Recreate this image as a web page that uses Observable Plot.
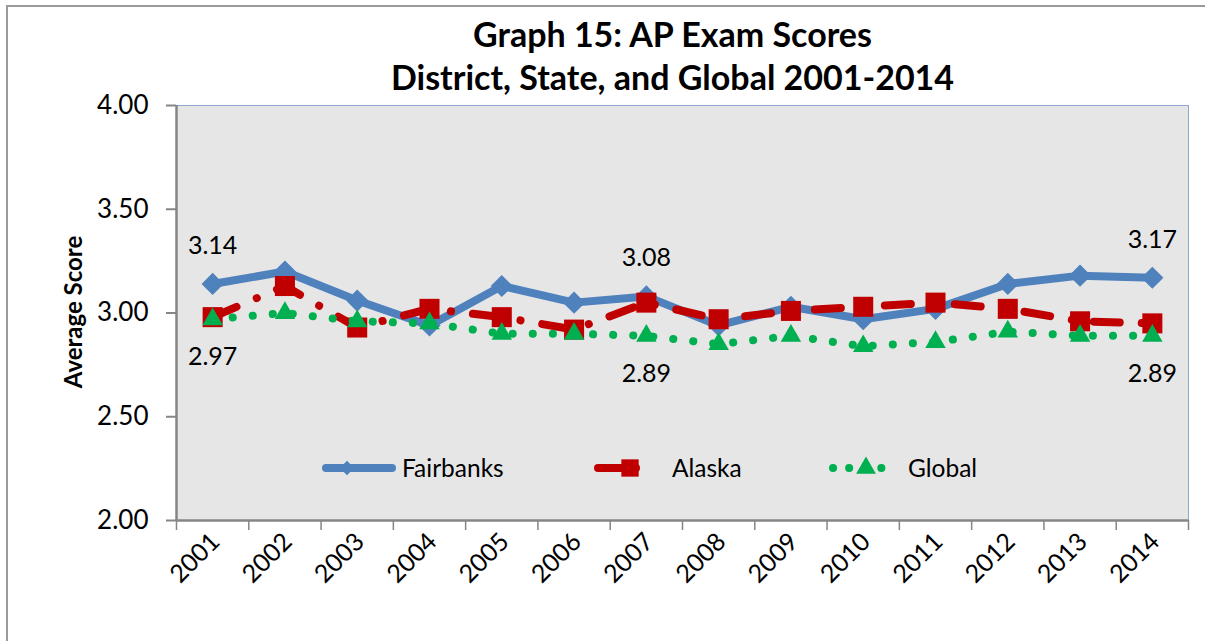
<!DOCTYPE html>
<html>
<head>
<meta charset="utf-8">
<script src="https://cdn.jsdelivr.net/npm/d3@7"></script>
<script src="https://cdn.jsdelivr.net/npm/@observablehq/plot@0.6"></script>
<style>
  html, body { margin: 0; padding: 0; background: #fff; overflow: hidden; }
  #wrap { position: relative; width: 1205px; height: 641px; font-family: Lato, "Open Sans", sans-serif; }
  #border { position: absolute; left: 6px; top: 5px; width: 1400px; height: 900px; border: 2px solid #9a9a9a; box-sizing: border-box; }
  #title { position: absolute; left: 0; width: 1345px; top: 12px; text-align: center; font-weight: bold; font-size: 34px; line-height: 43px; color: #000; }
  #ylab { position: absolute; left: 72px; top: 312px; transform: translate(-50%, -50%) rotate(-90deg); font-weight: bold; font-size: 24px; white-space: nowrap; }
  #chart { position: absolute; left: 0; top: 0; }
  #legend { position: absolute; left: 0; top: 0; pointer-events: none; }
</style>
</head>
<body>
<div id="wrap">
  <div id="border"></div>
  <div id="chart"></div>
  <div id="title">Graph 15: AP Exam Scores<br>District, State, and Global 2001-2014</div>
  <div id="ylab">Average Score</div>
  <div id="legend"></div>
</div>
<script>
const years = [2001, 2002, 2003, 2004, 2005, 2006, 2007, 2008, 2009, 2010, 2011, 2012, 2013, 2014];
const fairbanks = [3.14, 3.20, 3.06, 2.94, 3.13, 3.05, 3.08, 2.94, 3.03, 2.97, 3.02, 3.14, 3.18, 3.17];
const alaska    = [2.98, 3.13, 2.93, 3.02, 2.98, 2.92, 3.05, 2.97, 3.01, 3.03, 3.05, 3.02, 2.96, 2.95];
const global    = [2.97, 3.00, 2.96, 2.95, 2.90, 2.90, 2.89, 2.85, 2.89, 2.84, 2.86, 2.91, 2.89, 2.89];
const yTicks = [2.00, 2.50, 3.00, 3.50, 4.00];
const labelYears = [2001, 2007, 2014];
const seriesNames = ["Fairbanks", "Alaska", "Global"];

const BLUE = "#4F81BD", RED = "#C00000", GREEN = "#00B050";
const FONT = "Lato, 'Open Sans', sans-serif";

const rows = (vals) => years.map((yr, i) => ({year: yr, v: vals[i]}));
const fb = rows(fairbanks), ak = rows(alaska), gl = rows(global);
const bounds = years.map(y => y - 0.5).concat([years[years.length - 1] + 0.5]);

const plot = Plot.plot({
  width: 1205,
  height: 641,
  marginLeft: 176,
  marginRight: 17,
  marginTop: 105,
  marginBottom: 121,
  style: {fontFamily: FONT, background: "transparent", overflow: "visible"},
  x: {type: "linear", domain: [bounds[0], bounds[bounds.length - 1]], axis: null},
  y: {domain: [2, 4], axis: null},
  marks: [
    Plot.frame({fill: "#E6E6E6", stroke: "#8EA9D1", strokeWidth: 1}),
    Plot.axisY({ticks: yTicks, tickFormat: d => d.toFixed(2), tickSize: 10, tickPadding: 18,
      fontSize: 26, stroke: "#868686", strokeWidth: 2, color: "#000", label: null}),
    Plot.axisX({ticks: bounds, tickFormat: () => "", tickSize: 10, stroke: "#868686", strokeWidth: 1.5, label: null}),
    Plot.axisX({ticks: years, tickFormat: d => String(d), tickSize: 0, tickRotate: -45, tickPadding: 17,
      dx: 3, fontSize: 25, color: "#000", label: null}),
    Plot.ruleX([bounds[0]], {stroke: "#868686", strokeWidth: 2.5}),
    Plot.ruleY([2], {stroke: "#868686", strokeWidth: 2.5}),
    Plot.line(fb, {x: "year", y: "v", stroke: BLUE, strokeWidth: 8, strokeLinejoin: "round"}),
    Plot.dot(fb, {x: "year", y: "v", symbol: "diamond2", r: 10, fill: BLUE, stroke: "none"}),
    Plot.line(ak, {x: "year", y: "v", stroke: RED, strokeWidth: 8, strokeLinecap: "round",
      strokeDasharray: "26 22 0.1 22"}),
    Plot.dot(ak, {x: "year", y: "v", symbol: "square", r: 11.3, fill: RED, stroke: "none"}),
    Plot.line(gl, {x: "year", y: "v", stroke: GREEN, strokeWidth: 8, strokeLinecap: "round",
      strokeDasharray: "0.1 20"}),
    Plot.dot(gl, {x: "year", y: "v", symbol: "triangle", r: 7.6, fill: GREEN, stroke: "none"}),
    Plot.text(fb.filter(d => labelYears.includes(d.year)), {x: "year", y: "v", text: d => d.v.toFixed(2),
      dy: -38, fontSize: 25, fill: "#000"}),
    Plot.text(gl.filter(d => labelYears.includes(d.year)), {x: "year", y: "v", text: d => d.v.toFixed(2),
      dy: 38, fontSize: 25, fill: "#000"})
  ]
});
document.getElementById("chart").appendChild(plot);

// Legend (drawn with d3 in an overlay svg)
const lg = d3.select("#legend").append("svg").attr("width", 1205).attr("height", 641);
const ly = 468;
const items = [
  {name: seriesNames[0], color: BLUE, x0: 326, x1: 392, mx: 347, sym: d3.symbolDiamond2, size: 130, dash: null, tx: 402},
  {name: seriesNames[1], color: RED, x0: 598, x1: 636, mx: 630, sym: d3.symbolSquare, size: 300, dash: null, tx: 672},
  {name: seriesNames[2], color: GREEN, x0: 833, x1: 895, mx: 866, sym: d3.symbolTriangle, size: 170, dash: "0.1 16", tx: 908}
];
for (const it of items) {
  lg.append("line").attr("x1", it.x0).attr("x2", it.x1).attr("y1", ly).attr("y2", ly)
    .attr("stroke", it.color).attr("stroke-width", 8).attr("stroke-linecap", "round")
    .attr("stroke-dasharray", it.dash);
  lg.append("path").attr("d", d3.symbol(it.sym, it.size)()).attr("transform", `translate(${it.mx},${ly})`)
    .attr("fill", it.color);
  lg.append("text").attr("x", it.tx).attr("y", ly).attr("dy", "0.35em").attr("font-size", 24.5)
    .attr("font-family", FONT).text(it.name);
}
</script>
</body>
</html>
